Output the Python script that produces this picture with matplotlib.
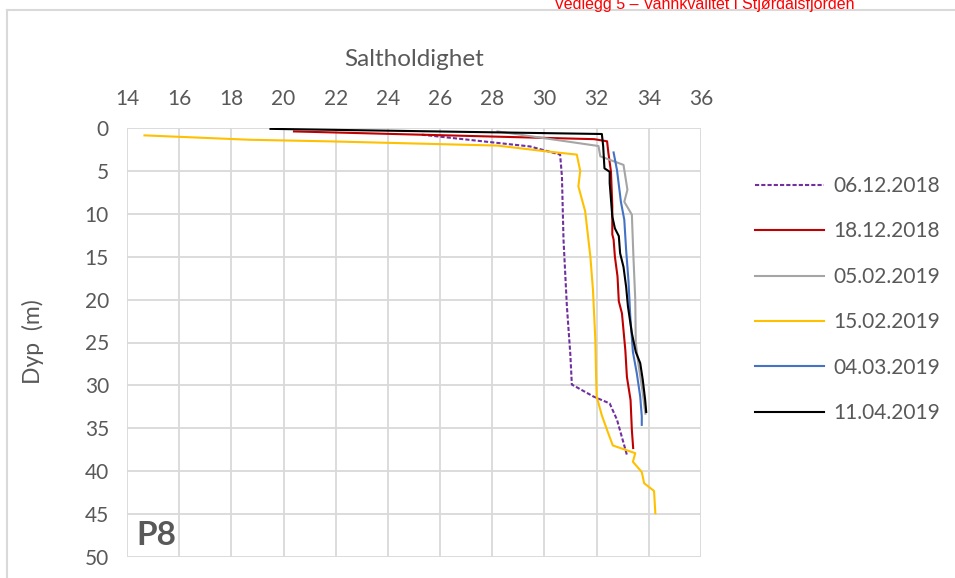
import matplotlib
matplotlib.use("Agg")
import matplotlib.pyplot as plt
from matplotlib.lines import Line2D

# salinity (x) vs depth (y) profiles at station P8
labels = ["06.12.2018", "18.12.2018", "05.02.2019", "15.02.2019", "04.03.2019", "11.04.2019"]
colors = ["#7030A0", "#C00000", "#A5A5A5", "#FFC000", "#4472C4", "#000000"]

sal_0612 = [25.3, 29.45, 30.6, 30.67, 30.73, 30.86, 30.99, 31.05, 31.88, 32.5, 32.78, 33.16]
dep_0612 = [0.78, 2.15, 3.1, 5.65, 13.0, 20.8, 26.3, 29.9, 31.3, 32.1, 34.0, 38.1]

sal_1812 = [20.4, 31.9, 32.4, 32.45, 32.55, 32.6, 32.6, 32.65, 32.7, 32.8, 32.85, 32.97, 33.1, 33.16, 33.3, 33.35, 33.4]
dep_1812 = [0.4, 1.3, 1.55, 2.9, 5.1, 9.1, 12.4, 13.0, 15.0, 17.3, 20.2, 21.6, 25.9, 29.0, 31.7, 35.2, 37.3]

sal_0502 = [28.2, 32.07, 32.14, 33.03, 33.18, 33.06, 33.35, 33.41, 33.48, 33.5, 33.6, 33.75, 33.87]
dep_0502 = [0.4, 2.1, 3.3, 4.3, 7.2, 8.6, 10.1, 15.0, 20.0, 25.0, 27.5, 30.5, 33.3]

sal_1502 = [14.67, 18.7, 21.8, 28.2, 30.0, 31.24, 31.37, 31.3, 31.56, 31.76, 31.86, 31.95, 31.98,
            32.0, 32.2, 32.4, 32.62, 33.48, 33.39, 33.73, 33.82, 34.2, 34.25]
dep_1502 = [0.86, 1.37, 1.56, 2.05, 2.7, 3.1, 5.0, 6.8, 9.7, 15.0, 18.9, 24.7, 29.0,
            31.3, 33.5, 35.2, 37.0, 37.9, 38.9, 40.1, 41.4, 42.3, 44.9]

sal_0403 = [32.65, 32.78, 32.93, 33.06, 33.13, 33.22, 33.29, 33.39, 33.54, 33.67, 33.73, 33.73]
dep_0403 = [2.85, 4.9, 8.6, 10.7, 14.2, 17.8, 22.0, 26.1, 28.6, 31.3, 33.6, 34.6]

sal_1104 = [19.5, 32.2, 32.25, 32.3, 32.5, 32.5, 32.6, 32.7, 32.85, 32.9, 33.03, 33.13, 33.2,
            33.35, 33.5, 33.67, 33.77, 33.86, 33.9]
dep_1104 = [0.1, 0.7, 2.1, 4.7, 5.1, 6.4, 10.3, 11.7, 12.6, 14.6, 16.2, 18.5, 20.8,
            23.9, 26.1, 27.4, 29.4, 31.7, 33.1]

series = [(sal_0612, dep_0612), (sal_1812, dep_1812), (sal_0502, dep_0502),
          (sal_1502, dep_1502), (sal_0403, dep_0403), (sal_1104, dep_1104)]

xticks = list(range(14, 37, 2))
yticks = list(range(0, 51, 5))

txt = "#595959"
grid = "#D9D9D9"
font = ["Lato", "DejaVu Sans"]
plt.rcParams["font.family"] = font

W, H = 955, 578
fig = plt.figure(figsize=(W / 100, H / 100), dpi=100)
ax = fig.add_axes([127 / W, 1 - 557 / H, (701 - 127) / W, (557 - 128) / H])

for (s, d), lab, c in zip(series, labels, colors):
    ls = (0, (2, 1)) if lab == "06.12.2018" else "-"
    ax.plot(s, d, color=c, lw=1.5, ls=ls, label=lab, zorder=3)

ax.set_xlim(14, 36)
ax.set_ylim(50, 0)
ax.set_xticks(xticks)
ax.set_yticks(yticks)
ax.xaxis.tick_top()
ax.tick_params(length=0, labelsize=15, colors=txt, pad=14)
ax.tick_params(axis="y", pad=13)
ax.grid(True, color=grid, lw=1.3)
for sp in ax.spines.values():
    sp.set_visible(False)
ax.set_axisbelow(True)

fig.text(33 / W, 1 - 342 / H, "Dyp  (m)", fontsize=16.5, color=txt, rotation=90,
         ha="center", va="center")
fig.text(414 / W, 1 - 60 / H, "Saltholdighet", fontsize=17.5, color=txt, ha="center", va="center")
ax.text(0.017, 0.05, "P8", transform=ax.transAxes, fontsize=24, fontweight="bold",
        color=txt, ha="left", va="center")

leg = fig.legend(loc="upper left", bbox_to_anchor=(755 / W, 1 - 176 / H), frameon=False,
                 fontsize=15, labelcolor=txt, handlelength=3.3, handletextpad=0.45,
                 labelspacing=1.22, borderpad=0, borderaxespad=0)

# outer chart frame and cut-off page header
fig.add_artist(Line2D([7 / W, 7 / W], [0, 1 - 10 / H], color=grid, lw=1.5))
fig.add_artist(Line2D([7 / W, 1], [1 - 10 / H, 1 - 10 / H], color=grid, lw=1.5))
fig.text(704 / W, 1 - 9 / H, "Vedlegg 5 \u2013 Vannkvalitet i Stjørdalsfjorden", color="#FF0000",
         fontsize=11.5, family="Liberation Sans", ha="center", va="baseline")

fig.savefig("out.png", dpi=100)
